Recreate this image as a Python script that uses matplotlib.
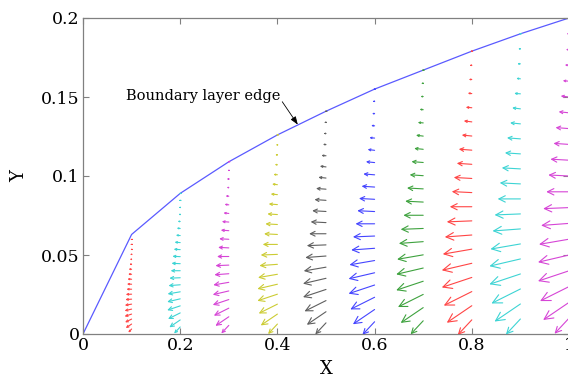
import numpy as np
import matplotlib
matplotlib.use('Agg')
import matplotlib.pyplot as plt

# boundary layer edge
x_edge = [0.0, 0.1, 0.2, 0.3, 0.4, 0.5, 0.6, 0.7, 0.8, 0.9, 1.0]
y_edge = [0.0, 0.063, 0.089, 0.109, 0.126, 0.141, 0.155, 0.167, 0.179, 0.190, 0.200]

# stations with velocity profiles
stations = [0.1, 0.2, 0.3, 0.4, 0.5, 0.6, 0.7, 0.8, 0.9, 1.0]
station_colors = ['r', 'c', 'm', 'y', 'k', 'b', 'g', 'r', 'c', 'm']
# longest arrow at each station (px)
station_len = [7, 13, 16, 20, 23, 26, 27, 30, 31, 31]

# profile shape read at x = 0.9 (21 rows, wall to edge), px units
u_prof = [0, -14, -25, -28, -30, -30, -29, -27, -25, -22, -20,
          -18, -15, -13, -10, -8, -6, -4, -3, -2, -0.8]
v_prof = [0, -15, -17, -14, -10, -7, -5, -2, -1, 0, 1,
          1, 1, 1, 1, 1, 0.5, 0.5, 0, 0, 0]

xticks = [0, 0.2, 0.4, 0.6, 0.8, 1.0]
xticklabels = ['0', '0.2', '0.4', '0.6', '0.8', '1']
yticks = [0, 0.05, 0.1, 0.15, 0.2]
yticklabels = ['0', '0.05', '0.1', '0.15', '0.2']

cmap = {'r': '#ff4545', 'c': '#3dd4d4', 'm': '#d645d6', 'y': '#cccc33',
        'k': '#5f5f5f', 'b': '#4545ff', 'g': '#3ea23e'}

fig = plt.figure(figsize=(5.68, 3.76), dpi=100)
ax = fig.add_axes([83/568, 42/376, 486/568, 316/376])
ax.set_xlim(0, 1)
ax.set_ylim(0, 0.2)

ax.plot(x_edge, y_edge, color='#5a5aff', lw=0.9)

nrow = len(u_prof)
for xs, c, L in zip(stations, station_colors, station_len):
    delta = np.interp(xs, x_edge, y_edge)
    ys = np.linspace(0, delta, nrow)
    s = L / 30.0
    for y0, u, v in zip(ys, u_prof, v_prof):
        du, dv = u * s, v * s
        l = np.hypot(du, dv)
        if l < 0.3:
            continue
        hl = 0.28 * l * 0.72
        hw = 0.14 * l * 0.72
        ann = ax.annotate('', xy=(xs, y0), xytext=(du, dv), textcoords='offset pixels',
                          arrowprops=dict(arrowstyle=f'<-,head_length={hl:.3f},head_width={hw:.3f}',
                                          color=cmap[c], lw=0.8, shrinkA=0, shrinkB=0,
                                          mutation_scale=1))
        ann.arrow_patch.set_clip_path(ax.patch)

ax.text(0.247, 0.1505, 'Boundary layer edge', ha='center', va='center',
        fontsize=10.5, family='DejaVu Serif')
ax.annotate('', xy=(0.442, 0.1325), xytext=(0.41, 0.147),
            arrowprops=dict(arrowstyle='-|>,head_length=0.6,head_width=0.22',
                            color='black', lw=0.6, shrinkA=0, shrinkB=0,
                            mutation_scale=8))

ax.set_xticks(xticks)
ax.set_xticklabels(xticklabels)
ax.set_yticks(yticks)
ax.set_yticklabels(yticklabels)
for lab in ax.get_xticklabels() + ax.get_yticklabels():
    lab.set_family('DejaVu Serif')
    lab.set_fontsize(12.5)
ax.tick_params(direction='in', length=4, top=True, right=True, color='#808080',
               width=0.8, pad=2.5)
for sp in ax.spines.values():
    sp.set_color('#808080')
    sp.set_linewidth(0.9)

ax.set_xlabel('X', family='DejaVu Serif', fontsize=13, labelpad=4)
ax.set_ylabel('Y', family='DejaVu Serif', fontsize=13, labelpad=9)

fig.savefig('out.png', dpi=100)
